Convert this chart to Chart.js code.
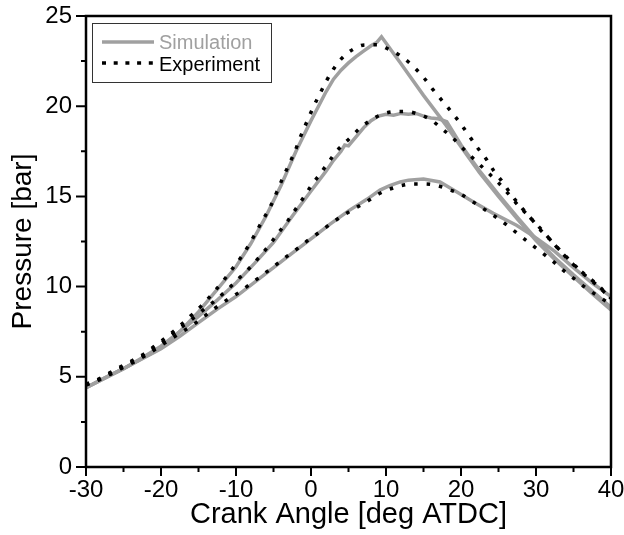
<!DOCTYPE html>
<html>
<head>
<meta charset="utf-8">
<script src="https://cdn.jsdelivr.net/npm/chart.js@4/dist/chart.umd.min.js"></script>
<style>
  body { margin: 0; background: #fff; }
  #wrap { width: 624px; height: 535px; position: relative; }
</style>
</head>
<body>
<div id="wrap"><canvas id="myChart"></canvas></div>
<script>
// axis ticks
const xTickValues = [-30, -20, -10, 0, 10, 20, 30, 40];
const yTickValues = [0, 5, 10, 15, 20, 25];
const legendLabels = ["Simulation", "Experiment"];

// simulation, high load
const simHighAngle = [-30, -27.5, -25, -22.5, -20, -17.5, -15, -12.5, -10, -8, -6, -4, -2, 0, 1, 2, 3, 4, 5, 6, 7, 8, 8.8, 9.4, 12, 15, 18, 20, 22.5, 25, 27.5, 30, 32.5, 35, 37.5, 40];
const simHighP = [4.4, 4.95, 5.45, 6.05, 6.7, 7.5, 8.6, 9.85, 11.1, 12.4, 13.9, 15.6, 17.5, 19.2, 20.0, 20.8, 21.5, 22.0, 22.4, 22.75, 23.05, 23.35, 23.55, 23.85, 22.35, 20.6, 18.95, 17.75, 16.3, 15.0, 13.75, 12.55, 11.5, 10.55, 9.6, 8.7];

// simulation, mid load
const simMidAngle = [-30, -25, -20, -17.5, -15, -12.5, -10, -7.5, -5, -2.5, 0, 2, 3, 4, 4.5, 5, 6, 7, 8, 9, 10, 11, 12, 13, 14, 15, 16, 17, 18.1, 20, 22.5, 25, 27.5, 30, 32.5, 35, 37.5, 40];
const simMidP = [4.4, 5.45, 6.6, 7.5, 8.35, 9.25, 10.2, 11.3, 12.45, 13.9, 15.3, 16.4, 17.0, 17.5, 17.85, 17.8, 18.3, 18.8, 19.2, 19.45, 19.55, 19.5, 19.6, 19.55, 19.6, 19.45, 19.35, 19.3, 19.14, 17.85, 16.4, 15.1, 13.85, 12.65, 11.6, 10.65, 9.75, 8.85];

// simulation, low load
const simLowAngle = [-30, -25, -20, -17.5, -15, -12.5, -10, -7.5, -5, -2.5, 0, 2.5, 5, 7.5, 9.2, 10.5, 11.9, 13, 15, 17.2, 19.4, 21.6, 24.3, 27.4, 30, 32.5, 35, 37.5, 40];
const simLowP = [4.4, 5.45, 6.55, 7.25, 8.0, 8.75, 9.45, 10.25, 11.05, 11.85, 12.65, 13.45, 14.2, 14.85, 15.35, 15.6, 15.8, 15.9, 15.96, 15.8, 15.26, 14.7, 14.06, 13.4, 12.7, 11.95, 11.05, 10.2, 9.44];

// experiment, high load
const expHighAngle = [-30, -28.3, -26.7, -25.1, -23.7, -22, -20.5, -18.9, -17.4, -15.9, -14.3, -12.8, -11.6, -10.4, -9.2, -8.2, -7.4, -6.5, -5.6, -4.9, -4.27, -3.56, -2.9, -2.13, -1.6, -0.9, -0.27, 0.44, 1.2, 2.0, 2.9, 4.1, 5.6, 7.2, 8.8, 10.4, 11.9, 13.4, 15, 16.3, 17.5, 18.8, 20, 21.1, 22.1, 23.4, 24.4, 25.6, 26.6, 27.9, 29.2, 30.7, 32, 33.4, 34.9, 36.6, 38.2, 39.6, 40];
const expHighP = [4.6, 4.88, 5.25, 5.62, 5.93, 6.34, 6.82, 7.32, 7.85, 8.43, 9.07, 9.77, 10.37, 11.03, 11.7, 12.36, 12.95, 13.64, 14.28, 14.9, 15.54, 16.2, 16.8, 17.5, 18.1, 18.8, 19.4, 20.07, 20.7, 21.36, 22.0, 22.65, 23.15, 23.4, 23.4, 23.15, 22.8, 22.3, 21.6, 20.9, 20.3, 19.64, 19.0, 18.35, 17.75, 17.05, 16.4, 15.77, 15.15, 14.47, 13.84, 13.17, 12.55, 11.9, 11.25, 10.64, 10.1, 9.52, 9.35];

// experiment, mid load
const expMidAngle = [-30, -28.3, -26.7, -25.1, -23.7, -22, -20.5, -18.9, -17.5, -16, -14.4, -12.8, -11.2, -9.6, -8.1, -6.7, -5.5, -4.3, -3.1, -2.0, -1.0, 0.1, 1.2, 2.3, 3.4, 5.1, 6.5, 8, 9.6, 11.2, 12.8, 14.2, 15.9, 17.4, 19, 20.4, 21.9, 23.4, 25, 26.3, 27.7, 29.2, 30.6, 32, 33.5, 35, 36.5, 38.1, 39.6, 40];
const expMidP = [4.55, 4.85, 5.2, 5.55, 5.85, 6.25, 6.7, 7.22, 7.69, 8.15, 8.7, 9.22, 9.81, 10.46, 11.07, 11.73, 12.34, 13.0, 13.64, 14.32, 14.93, 15.63, 16.24, 16.87, 17.5, 18.2, 18.77, 19.23, 19.57, 19.7, 19.7, 19.57, 19.27, 18.77, 18.2, 17.6, 17.0, 16.4, 15.75, 15.15, 14.47, 13.84, 13.14, 12.55, 11.88, 11.25, 10.64, 10.09, 9.5, 9.35];

// experiment, low load
const expLowAngle = [-30, -28.3, -26.7, -25.1, -23.7, -22, -20.5, -18.9, -17.5, -15.9, -14.4, -12.8, -11.2, -9.6, -8.1, -6.6, -5.0, -3.4, -1.9, -0.36, 1.2, 2.8, 4.3, 5.9, 7.4, 9, 10.5, 12.1, 13.6, 15.2, 16.8, 18.3, 19.9, 21.4, 22.9, 24.5, 26, 27.5, 29.1, 30.8, 32.2, 33.7, 35.3, 36.9, 38.4, 40];
const expLowP = [4.55, 4.82, 5.15, 5.5, 5.8, 6.2, 6.6, 7.04, 7.41, 7.83, 8.3, 8.8, 9.26, 9.68, 10.14, 10.6, 11.1, 11.62, 12.08, 12.58, 13.04, 13.54, 13.95, 14.35, 14.7, 15.13, 15.4, 15.6, 15.69, 15.69, 15.6, 15.4, 15.13, 14.75, 14.34, 13.9, 13.45, 12.95, 12.43, 11.88, 11.42, 10.88, 10.37, 9.85, 9.44, 9.0];

const FONT = "'Liberation Sans', Arial, Helvetica, sans-serif";
const SIM_COLOR = "#a0a0a0";

function pts(xs, ys) {
  return xs.map((v, i) => ({ x: v, y: ys[i] }));
}

function simSet(label, xs, ys) {
  return {
    label: label,
    data: pts(xs, ys),
    borderColor: SIM_COLOR,
    borderWidth: 3.5,
    pointRadius: 0,
    tension: 0,
    order: 2,
  };
}

function expSet(label, xs, ys) {
  return {
    label: label,
    data: pts(xs, ys),
    borderColor: "#000",
    borderWidth: 3.5,
    borderDash: [3.5, 9],
    pointRadius: 0,
    cubicInterpolationMode: "monotone",
    order: 1,
  };
}

// frame, tick marks and the boxed legend inside the plot
const frameAndLegend = {
  id: "frameAndLegend",
  afterDraw(chart) {
    const { ctx, chartArea: a, scales } = chart;
    ctx.save();
    ctx.strokeStyle = "#000";
    ctx.lineWidth = 2.5;
    ctx.strokeRect(a.left, a.top, a.right - a.left, a.bottom - a.top);

    ctx.lineWidth = 2;
    ctx.beginPath();
    for (let v = xTickValues[0]; v <= xTickValues[xTickValues.length - 1]; v += 5) {
      const px = scales.x.getPixelForValue(v);
      const len = xTickValues.includes(v) ? 9 : 5;
      ctx.moveTo(px, a.bottom);
      ctx.lineTo(px, a.bottom + len);
    }
    for (let v = yTickValues[0]; v <= yTickValues[yTickValues.length - 1]; v += 2.5) {
      const py = scales.y.getPixelForValue(v);
      const len = yTickValues.includes(v) ? 10 : 5;
      ctx.moveTo(a.left, py);
      ctx.lineTo(a.left - len, py);
    }
    ctx.stroke();

    // legend
    const bx = a.left + 6, by = a.top + 7;
    ctx.lineWidth = 1;
    ctx.strokeStyle = "#333";
    ctx.strokeRect(bx + 0.5, by + 0.5, 179, 59);

    ctx.font = "20px " + FONT;
    ctx.textBaseline = "alphabetic";

    ctx.strokeStyle = SIM_COLOR;
    ctx.lineWidth = 3.5;
    ctx.beginPath();
    ctx.moveTo(bx + 10, by + 19);
    ctx.lineTo(bx + 62, by + 19);
    ctx.stroke();
    ctx.fillStyle = SIM_COLOR;
    ctx.fillText(legendLabels[0], bx + 67, by + 26);

    ctx.strokeStyle = "#000";
    ctx.setLineDash([4, 7.7]);
    ctx.beginPath();
    ctx.moveTo(bx + 10, by + 40);
    ctx.lineTo(bx + 62, by + 40);
    ctx.stroke();
    ctx.setLineDash([]);
    ctx.fillStyle = "#000";
    ctx.fillText(legendLabels[1], bx + 67, by + 48);
    ctx.restore();
  },
};

const ctx = document.getElementById("myChart").getContext("2d");
new Chart(ctx, {
  type: "line",
  data: {
    datasets: [
      expSet("Experiment", expHighAngle, expHighP),
      expSet("Experiment", expMidAngle, expMidP),
      expSet("Experiment", expLowAngle, expLowP),
      simSet("Simulation", simHighAngle, simHighP),
      simSet("Simulation", simMidAngle, simMidP),
      simSet("Simulation", simLowAngle, simLowP),
    ],
  },
  options: {
    responsive: true,
    maintainAspectRatio: false,
    animation: false,
    layout: { padding: { top: 16, right: 13, left: 0, bottom: 0 } },
    plugins: { legend: { display: false }, tooltip: { enabled: false } },
    scales: {
      x: {
        type: "linear",
        min: -30,
        max: 40,
        afterBuildTicks: (scale) => { scale.ticks = xTickValues.map((v) => ({ value: v })); },
        afterFit: (scale) => { scale.height = 68; scale.paddingLeft = 0; scale.paddingRight = 0; },
        grid: { display: true, drawOnChartArea: false, drawTicks: false },
        border: { display: false },
        ticks: { color: "#000", font: { family: FONT, size: 24 }, padding: 9, maxRotation: 0 },
        title: {
          display: true,
          text: "Crank Angle [deg ATDC]",
          color: "#000",
          font: { family: FONT, size: 29 },
          padding: { top: 0, bottom: 3 },
        },
      },
      y: {
        min: 0,
        max: 25,
        afterBuildTicks: (scale) => { scale.ticks = yTickValues.map((v) => ({ value: v })); },
        afterFit: (scale) => { scale.width = 86; scale.paddingTop = 0; scale.paddingBottom = 0; },
        grid: { display: true, drawOnChartArea: false, drawTicks: false },
        border: { display: false },
        ticks: { color: "#000", font: { family: FONT, size: 24 }, padding: 14 },
        title: {
          display: true,
          text: "Pressure [bar]",
          color: "#000",
          font: { family: FONT, size: 28 },
          padding: { top: 6, bottom: 0 },
        },
      },
    },
  },
  plugins: [frameAndLegend],
});
</script>
</body>
</html>
